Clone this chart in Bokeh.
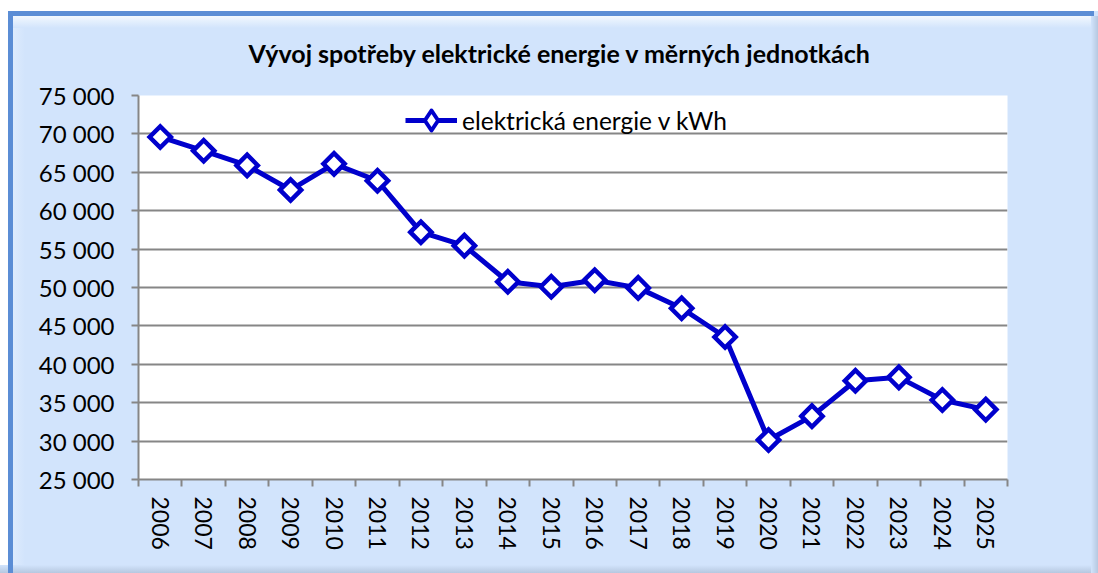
import math
from bokeh.plotting import figure
from bokeh.models import (Range1d, FixedTicker, Legend, LegendItem, ColumnDataSource)
from bokeh.embed import file_html
from bokeh.resources import INLINE

# ---- data ----
years = ["2006", "2007", "2008", "2009", "2010", "2011", "2012", "2013", "2014", "2015",
         "2016", "2017", "2018", "2019", "2020", "2021", "2022", "2023", "2024", "2025"]
energy_kwh = [69600, 67800, 65900, 62700, 66100, 63900, 57200, 55450, 50750, 50100,
              50950, 49950, 47300, 43550, 30150, 33250, 37850, 38300, 35350, 34100]
y_ticks = [25000, 30000, 35000, 40000, 45000, 50000, 55000, 60000, 65000, 70000, 75000]
y_tick_labels = ["25 000", "30 000", "35 000", "40 000", "45 000", "50 000",
                 "55 000", "60 000", "65 000", "70 000", "75 000"]
series_name = "elektrická energie v kWh"
title_text = "Vývoj spotřeby elektrické energie v měrných jednotkách"

FONT = "Lato"
GRAY = "#868686"
BLUE = "#0000CC"
PANEL = "#D2E4FC"

n = len(years)
xs = [i + 0.5 for i in range(n)]
src = ColumnDataSource(data=dict(x=xs, y=energy_kwh))

p = figure(width=1098, height=573, output_backend="svg", toolbar_location=None,
           x_range=Range1d(0, n), y_range=Range1d(y_ticks[0], y_ticks[-1]),
           min_border_left=138, min_border_right=91, min_border_top=95, min_border_bottom=94)

p.background_fill_color = "white"
p.border_fill_color = None
p.outline_line_color = None
p.styles = {
    "background": (
        "linear-gradient(#5B8DD5,#5B8DD5) 8px 11px / 5px calc(100% - 11px) no-repeat, "
        "linear-gradient(#5B8DD5,#5B8DD5) 8px 11px / calc(100% - 12px) 5px no-repeat, "
        "linear-gradient(to left, #B6C8E0, " + PANEL + ") right 16px / 7px 100% no-repeat, "
        "linear-gradient(to top, #B6C8E0, " + PANEL + ") left bottom / 100% 8px no-repeat, "
        "linear-gradient(to bottom, #F2F8FE, " + PANEL + ") 13px 16px / 100% 12px no-repeat, "
        "linear-gradient(to right, #DDEBFD, " + PANEL + ") 13px 16px / 12px 100% no-repeat, "
        "linear-gradient(#FFFFFF,#FFFFFF) 0px 0px / 100% 11px no-repeat, "
        "linear-gradient(#FFFFFF,#FFFFFF) 0px 0px / 8px 100% no-repeat, "
        + PANEL
    )
}

line_r = p.line("x", "y", source=src, line_color=BLUE, line_width=5, line_join="round")
# diamond used for the legend symbol; on the plot it sits hidden under the square markers
legend_marker = p.scatter("x", "y", source=src, marker="diamond", size=14,
                          fill_color="white", line_color=BLUE, line_width=4, line_join="round")
pts_r = p.scatter("x", "y", source=src, marker="square", size=15, angle=math.pi / 4,
                  fill_color="white", line_color=BLUE, line_width=4.5, line_join="miter")

# ---- title ----
p.title.text = title_text
p.title.align = "left"
p.title.offset = 110
p.title.standoff = 55
p.title.text_font = FONT
p.title.text_font_style = "bold"
p.title.text_font_size = "25px"
p.title.text_color = "black"

# ---- axes ----
xa = p.xaxis[0]
xa.ticker = FixedTicker(ticks=xs, minor_ticks=list(range(n + 1)))
xa.major_label_overrides = {x: y for x, y in zip(xs, years)}
xa.major_tick_out = 0
xa.major_tick_in = 0
xa.minor_tick_out = 7
xa.minor_tick_in = 0
xa.minor_tick_line_color = GRAY
xa.minor_tick_line_width = 2
xa.axis_line_color = GRAY
xa.axis_line_width = 2
xa.major_label_orientation = "vertical"
xa.major_label_standoff = 10
xa.major_label_text_font = FONT
xa.major_label_text_font_size = "23px"
xa.major_label_text_color = "black"

ya = p.yaxis[0]
ya.ticker = FixedTicker(ticks=y_ticks, minor_ticks=[])
ya.major_label_overrides = {t: l for t, l in zip(y_ticks, y_tick_labels)}
ya.major_tick_out = 7
ya.major_tick_in = 0
ya.major_tick_line_color = GRAY
ya.major_tick_line_width = 2
ya.minor_tick_line_color = None
ya.axis_line_color = GRAY
ya.axis_line_width = 2
ya.major_label_standoff = 17
ya.major_label_text_font = FONT
ya.major_label_text_font_size = "24px"
ya.major_label_text_color = "black"

p.xgrid.grid_line_color = None
p.ygrid.ticker = FixedTicker(ticks=y_ticks)
p.ygrid.grid_line_color = GRAY
p.ygrid.grid_line_width = 2

# ---- legend ----
legend = Legend(items=[LegendItem(label=series_name, renderers=[line_r, legend_marker])],
                location=(267, 334), orientation="vertical",
                background_fill_alpha=0, border_line_alpha=0,
                padding=0, margin=0, spacing=0,
                glyph_width=52, glyph_height=50, label_height=50, label_standoff=5,
                label_text_font=FONT, label_text_font_size="24.5px", label_text_color="black",
                label_text_baseline="middle")
p.add_layout(legend, "center")

open("out.html", "w").write(file_html(p, INLINE))
